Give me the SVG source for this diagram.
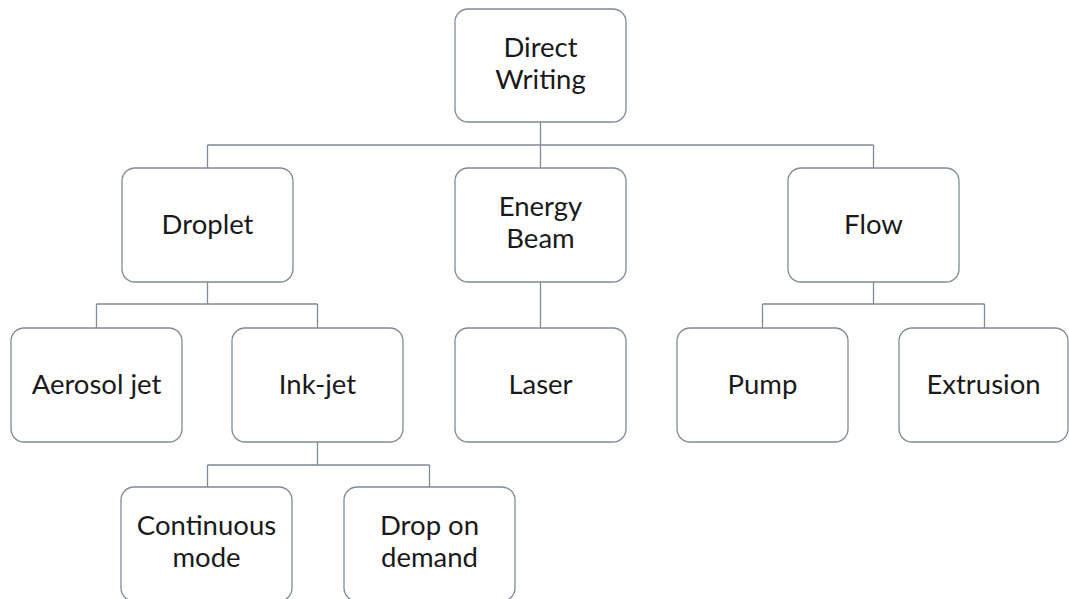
<svg xmlns="http://www.w3.org/2000/svg" width="1069" height="599" viewBox="0 0 1069 599">
<style>
.box{fill:#ffffff;stroke:#7f8b97;stroke-width:1.3}
.lbl{font-family:Lato,"Open Sans",sans-serif;font-size:27.5px;fill:#1a1a1a;text-anchor:middle}
.conn{fill:none;stroke:#7f8b97;stroke-width:1.3}
</style>
<rect width="1069" height="599" fill="#ffffff"/>
<g id="connectors" class="conn">
<path d="M540.5 122V145M207.5 145H873.5M207.5 145V168M540.5 145V168M873.5 145V168"/>
<path d="M207.5 282V304M96.5 304H317.5M96.5 304V328M317.5 304V328"/>
<path d="M540.5 282V328"/>
<path d="M873.5 282V304M762.5 304H984.5M762.5 304V328M984.5 304V328"/>
<path d="M317.5 442V465M207.5 465H429.5M207.5 465V487M429.5 465V487"/>
</g>
<g id="direct-writing"><rect class="box" x="455" y="9" width="171" height="113" rx="13"/><text class="lbl" x="540.5" y="57">Direct</text><text class="lbl" x="540.5" y="89">Writing</text></g>
<g id="droplet"><rect class="box" x="122" y="168" width="171" height="114" rx="13"/><text class="lbl" x="207.5" y="234">Droplet</text></g>
<g id="energy-beam"><rect class="box" x="455" y="168" width="171" height="114" rx="13"/><text class="lbl" x="540.5" y="216">Energy</text><text class="lbl" x="540.5" y="248">Beam</text></g>
<g id="flow"><rect class="box" x="788" y="168" width="171" height="114" rx="13"/><text class="lbl" x="873.5" y="234">Flow</text></g>
<g id="aerosol-jet"><rect class="box" x="11" y="328" width="171" height="114" rx="13"/><text class="lbl" x="96.5" y="394">Aerosol jet</text></g>
<g id="ink-jet"><rect class="box" x="232" y="328" width="171" height="114" rx="13"/><text class="lbl" x="317.5" y="394">Ink-jet</text></g>
<g id="laser"><rect class="box" x="455" y="328" width="171" height="114" rx="13"/><text class="lbl" x="540.5" y="394">Laser</text></g>
<g id="pump"><rect class="box" x="677" y="328" width="171" height="114" rx="13"/><text class="lbl" x="762.5" y="394">Pump</text></g>
<g id="extrusion"><rect class="box" x="899" y="328" width="169" height="114" rx="13"/><text class="lbl" x="983.5" y="394">Extrusion</text></g>
<g id="continuous-mode"><rect class="box" x="121" y="487" width="171" height="114" rx="13"/><text class="lbl" x="206.5" y="535">Continuous</text><text class="lbl" x="206.5" y="567">mode</text></g>
<g id="drop-on-demand"><rect class="box" x="344" y="487" width="171" height="114" rx="13"/><text class="lbl" x="429.5" y="535">Drop on</text><text class="lbl" x="429.5" y="567">demand</text></g>
</svg>
